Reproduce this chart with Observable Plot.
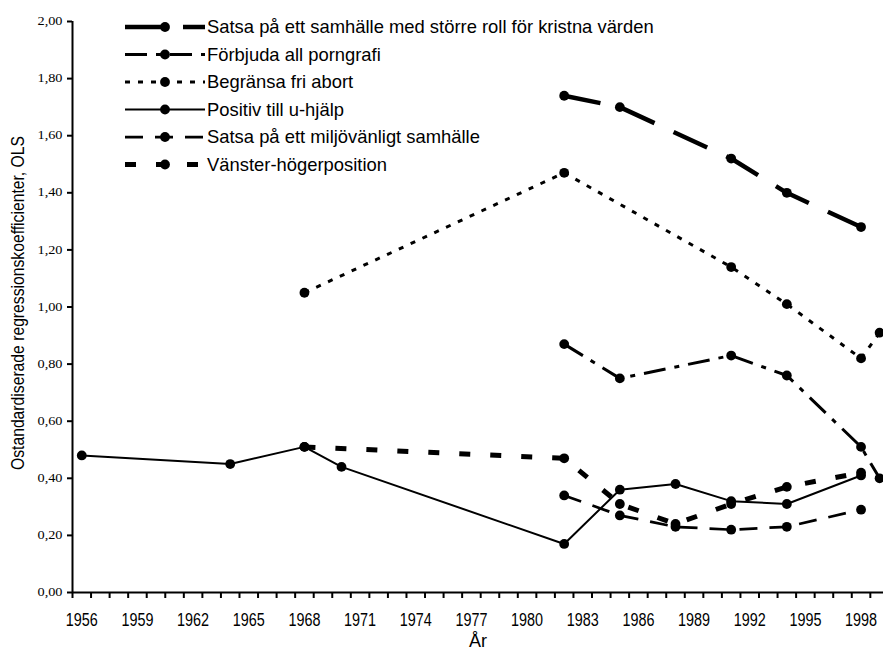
<!DOCTYPE html>
<html>
<head>
<meta charset="utf-8">
<script src="https://cdn.jsdelivr.net/npm/d3@7"></script>
<script src="https://cdn.jsdelivr.net/npm/@observablehq/plot@0.6"></script>
<style>
  html, body { margin: 0; padding: 0; background: #fff; }
  #wrap { position: relative; width: 883px; height: 650px; overflow: hidden; background: #fff; }
  #overlay { position: absolute; left: 0; top: 0; pointer-events: none; }
</style>
</head>
<body>
<div id="wrap"></div>
<script>
// ---- data ----
const seriesNames = [
  "Satsa på ett samhälle med större roll för kristna värden",
  "Förbjuda all porngrafi",
  "Begränsa fri abort",
  "Positiv till u-hjälp",
  "Satsa på ett miljövänligt samhälle",
  "Vänster-högerposition"
];
const kristnaYears = [1982, 1985, 1991, 1994, 1998];
const kristnaValues = [1.74, 1.70, 1.52, 1.40, 1.28];
const porrYears = [1982, 1985, 1991, 1994, 1998, 1999];
const porrValues = [0.87, 0.75, 0.83, 0.76, 0.51, 0.40];
const abortYears = [1968, 1982, 1991, 1994, 1998, 1999];
const abortValues = [1.05, 1.47, 1.14, 1.01, 0.82, 0.91];
const uhjalpYears = [1956, 1964, 1968, 1970, 1982, 1985, 1988, 1991, 1994, 1998];
const uhjalpValues = [0.48, 0.45, 0.51, 0.44, 0.17, 0.36, 0.38, 0.32, 0.31, 0.41];
const miljoYears = [1982, 1985, 1988, 1991, 1994, 1998];
const miljoValues = [0.34, 0.27, 0.23, 0.22, 0.23, 0.29];
const vhYears = [1968, 1982, 1985, 1988, 1991, 1994, 1998];
const vhValues = [0.51, 0.47, 0.31, 0.24, 0.31, 0.37, 0.42];

const xTickLabels = [1956, 1959, 1962, 1965, 1968, 1971, 1974, 1977, 1980, 1983, 1986, 1989, 1992, 1995, 1998];
const firstYear = 1956, lastYear = 1999;
const yTicks = [0, 0.2, 0.4, 0.6, 0.8, 1.0, 1.2, 1.4, 1.6, 1.8, 2.0];
const xLabel = "År";
const yLabel = "Ostandardiserade regressionskoefficienter, OLS";

// ---- styles (kept apart from the data) ----
const seriesYears = [kristnaYears, porrYears, abortYears, uhjalpYears, miljoYears, vhYears];
const seriesValues = [kristnaValues, porrValues, abortValues, uhjalpValues, miljoValues, vhValues];
const lineWidths = [4.5, 3, 3, 2, 2.75, 5];
const lineDashes = ["37,21", "22,9,5,9", "5,8", null, "18,12", "11,20"];
const dotR = 4.9;

const series = seriesNames.map((name, i) => ({
  name,
  data: seriesYears[i].map((yr, j) => ({year: yr, value: seriesValues[i][j]})),
  width: lineWidths[i],
  dash: lineDashes[i]
}));

// category boundaries (Excel-style category axis: ticks between years)
const boundaries = d3.range(firstYear - 0.5, lastYear + 1, 1);
const fmt = d => d.toFixed(2).replace(".", ",");

const lineMarks = series.map(s => Plot.line(s.data, {
  x: "year", y: "value", stroke: "black", strokeWidth: s.width,
  strokeDasharray: s.dash || undefined, strokeLinecap: "butt", strokeLinejoin: "miter"
}));
const dotMarks = series.map(s => Plot.dot(s.data, {x: "year", y: "value", r: dotR, fill: "black", stroke: "none"}));

const chart = Plot.plot({
  width: 883,
  height: 650,
  marginLeft: 72,
  marginRight: 0,
  marginTop: 21,
  marginBottom: 58,
  style: {fontFamily: "'Liberation Sans', Arial, sans-serif", fontSize: "18px", background: "white", color: "black"},
  x: {domain: [firstYear - 0.5, 1999.21]},
  y: {domain: [0, 2]},
  marks: [
    Plot.axisY({ticks: yTicks, tickFormat: fmt, tickSize: 5, tickPadding: 5, strokeWidth: 2,
      fontFamily: "'Liberation Serif', 'Times New Roman', serif", fontSize: 11.5, label: null}),
    Plot.axisX({ticks: boundaries, tickFormat: () => "", tickSize: 6, strokeWidth: 2, label: null}),
    Plot.axisX({ticks: xTickLabels, tickFormat: d => String(d), tickSize: 0, tickPadding: 21,
      fontSize: 18, label: xLabel, labelAnchor: "center", labelOffset: 54}),
    Plot.ruleX([firstYear - 0.5], {stroke: "black", strokeWidth: 2}),
    Plot.ruleY([0], {stroke: "black", strokeWidth: 2}),
    ...lineMarks,
    ...dotMarks
  ]
});

const wrap = document.getElementById("wrap");
wrap.appendChild(chart);

// strip the automatic arrows from the axis labels
d3.select(chart).selectAll("text").each(function() {
  const t = this.textContent;
  if (/[→←↑↓]/.test(t)) this.textContent = t.replace(/\s*[→←↑↓]\s*/g, "").trim();
});
// condensed year labels / widened value labels, as in the source picture
d3.select(chart).selectAll('g[aria-label="x-axis tick label"] text')
  .attr("textLength", 32).attr("lengthAdjust", "spacingAndGlyphs");
d3.select(chart).selectAll('g[aria-label="y-axis tick label"] text')
  .attr("textLength", 25).attr("lengthAdjust", "spacingAndGlyphs");

// ---- overlay: y title and legend ----
const ov = d3.select(wrap).append("svg")
  .attr("id", "overlay").attr("width", 883).attr("height", 650)
  .attr("font-family", "'Liberation Sans', Arial, sans-serif");

ov.append("text")
  .attr("transform", "translate(24,303) rotate(-90)")
  .attr("text-anchor", "middle").attr("font-size", 17.5)
  .attr("textLength", 334).attr("lengthAdjust", "spacingAndGlyphs")
  .text(yLabel);

const legendLeft = 125, legendTop = 27, rowGap = 27.5, sampleW = 80;
series.forEach((s, i) => {
  const cy = legendTop + i * rowGap;
  const g = ov.append("g");
  g.append("line").attr("x1", legendLeft).attr("x2", legendLeft + sampleW)
    .attr("y1", cy).attr("y2", cy).attr("stroke", "black").attr("stroke-width", s.width)
    .attr("stroke-dasharray", s.dash || null).attr("stroke-linecap", "butt");
  g.append("circle").attr("cx", legendLeft + sampleW / 2).attr("cy", cy).attr("r", dotR).attr("fill", "black");
  g.append("text").attr("x", legendLeft + sampleW + 2).attr("y", cy).attr("dy", "0.35em")
    .attr("font-size", 18.4).text(s.name);
});
</script>
</body>
</html>
